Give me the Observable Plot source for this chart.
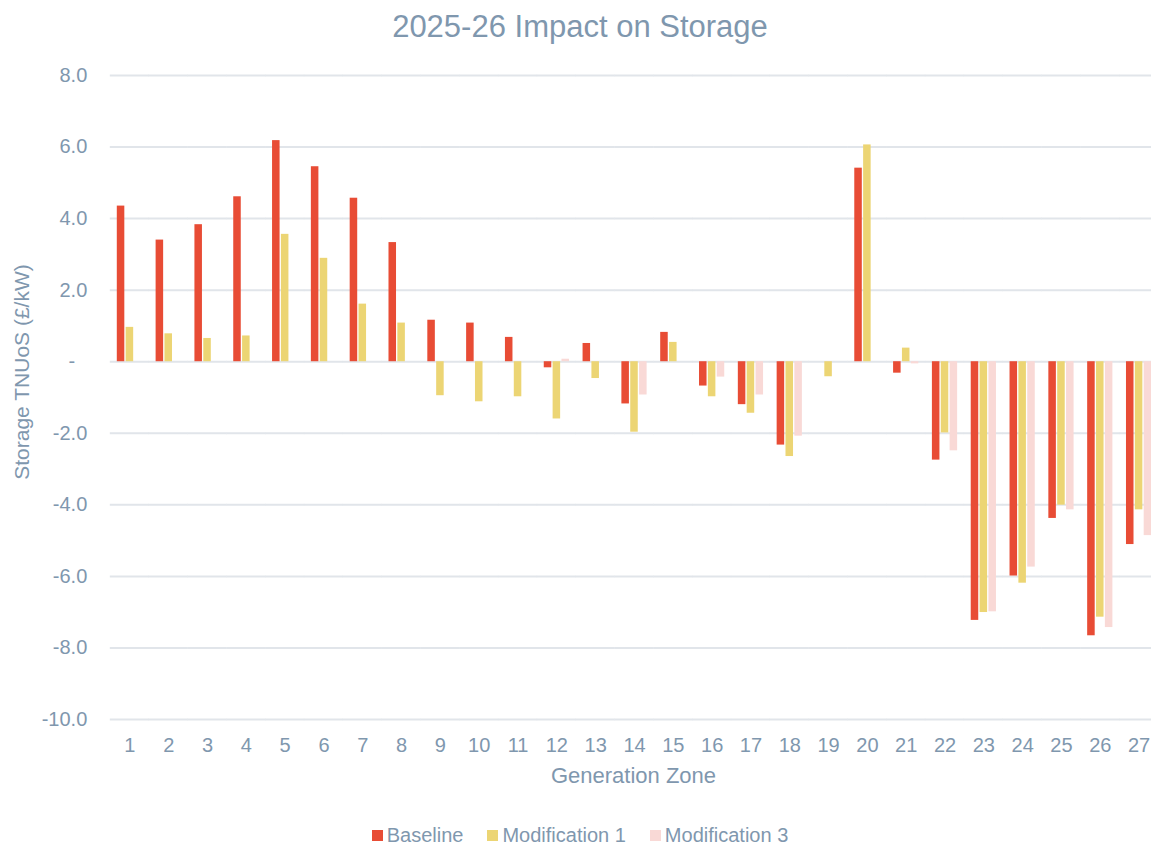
<!DOCTYPE html>
<html>
<head>
<meta charset="utf-8">
<script src="https://cdn.jsdelivr.net/npm/d3@7"></script>
<script src="https://cdn.jsdelivr.net/npm/@observablehq/plot@0.6"></script>
<style>
  html, body { margin: 0; padding: 0; background: #fff; }
  body { width: 1151px; height: 845px; overflow: hidden; position: relative; font-family: "Liberation Sans", Arial, sans-serif; color: #7F97AE; }
  #title { position: absolute; left: 0; width: 1160px; top: 7px; text-align: center; font-size: 31px; line-height: 40px; }
  #chart { position: absolute; left: 0; top: 55px; width: 1158px; }
  #chart svg { max-width: none !important; }
  #ylabel { position: absolute; left: 22px; top: 372px; transform: translate(-50%, -50%) rotate(-90deg); font-size: 21px; white-space: nowrap; }
  #xlabel { position: absolute; left: 0; width: 1267px; top: 762px; text-align: center; font-size: 22px; line-height: 28px; }
  #legend { position: absolute; left: 0; width: 1160px; top: 822px; display: flex; justify-content: center; font-size: 20px; line-height: 26px; }
  .item { display: flex; align-items: center; margin: 0 12px; }
  .sw { width: 11px; height: 11px; margin-right: 4px; }
</style>
</head>
<body>
<div id="title">2025-26 Impact on Storage</div>
<div id="chart"></div>
<div id="ylabel">Storage TNUoS (£/kW)</div>
<div id="xlabel">Generation Zone</div>
<div id="legend"></div>
<script>
const zones = [1,2,3,4,5,6,7,8,9,10,11,12,13,14,15,16,17,18,19,20,21,22,23,24,25,26,27];
const seriesNames = ["Baseline", "Modification 1", "Modification 3"];
const seriesColors = ["#E84C35", "#ECD574", "#F9D9D6"];
const baseline = [4.35, 3.40, 3.83, 4.61, 6.18, 5.45, 4.57, 3.33, 1.16, 1.08, 0.68, -0.17, 0.51, -1.18, 0.82, -0.68, -1.20, -2.33, 0, 5.41, -0.32, -2.75, -7.23, -5.99, -4.38, -7.66, -5.11];
const modification1 = [0.96, 0.78, 0.65, 0.72, 3.56, 2.89, 1.61, 1.08, -0.95, -1.12, -0.98, -1.60, -0.47, -1.97, 0.54, -0.98, -1.44, -2.65, -0.42, 6.06, 0.38, -1.99, -7.01, -6.19, -4.01, -7.14, -4.14];
const modification3 = [0, 0, 0, 0, 0, 0, 0, 0, 0, 0, 0, 0.07, 0, -0.93, 0, -0.43, -0.93, -2.08, 0, 0, -0.06, -2.49, -6.99, -5.74, -4.14, -7.43, -4.86];
const yTicks = [-10, -8, -6, -4, -2, 0, 2, 4, 6, 8];

const seriesValues = [baseline, modification1, modification3];
const data = [];
zones.forEach((z, i) => {
  seriesNames.forEach((s, j) => data.push({zone: z, series: s, value: seriesValues[j][i]}));
});

const nonZeroTicks = yTicks.filter(v => v !== 0);
const zeroTick = yTicks.filter(v => v === 0);

const chart = Plot.plot({
  width: 1158,
  height: 724,
  marginTop: 20,
  marginBottom: 60,
  marginLeft: 110,
  marginRight: 0,
  style: {fontFamily: "Liberation Sans, Arial, sans-serif", color: "#7F97AE", background: "white"},
  fx: {domain: zones, paddingInner: 0.35, paddingOuter: 0.175, round: false, label: null},
  x: {domain: seriesNames, paddingInner: 0.15, paddingOuter: 0, round: false, axis: null},
  y: {domain: [-10, 8], ticks: yTicks, label: null},
  color: {domain: seriesNames, range: seriesColors},
  marks: [
    Plot.ruleY(yTicks, {stroke: "#E1E5EA", strokeWidth: 2, insetLeft: -7, insetRight: -7}),
    Plot.axisY(nonZeroTicks, {tickSize: 0, tickPadding: 30, fontSize: 20, tickFormat: v => v.toFixed(1), label: null}),
    Plot.axisY(zeroTick, {tickSize: 0, tickPadding: 42, fontSize: 20, tickFormat: () => "-", label: null}),
    Plot.axisFx({anchor: "bottom", tickSize: 0, tickPadding: 18, fontSize: 20, label: null}),
    Plot.barY(data, {fx: "zone", x: "series", y: "value", fill: "series"})
  ]
});
document.getElementById("chart").appendChild(chart);

const legend = document.getElementById("legend");
seriesNames.forEach((s, j) => {
  const it = document.createElement("div");
  it.className = "item";
  const sw = document.createElement("div");
  sw.className = "sw";
  sw.style.background = seriesColors[j];
  const t = document.createElement("span");
  t.textContent = s;
  it.appendChild(sw);
  it.appendChild(t);
  legend.appendChild(it);
});
</script>
</body>
</html>
